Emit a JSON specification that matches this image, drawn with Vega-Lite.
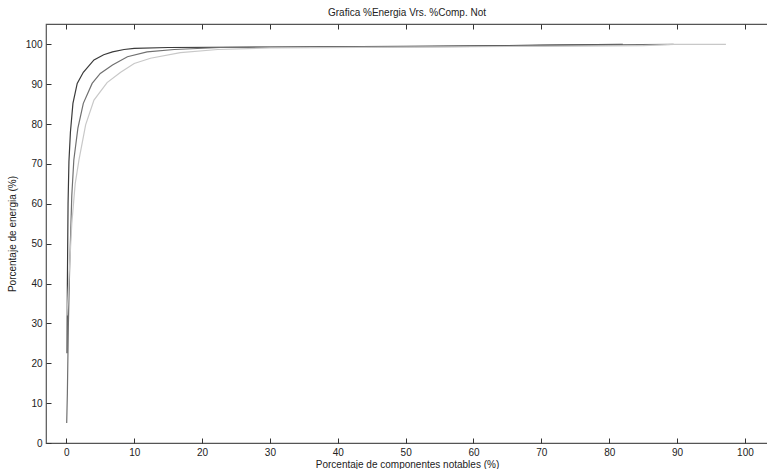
{
  "$schema": "https://vega.github.io/schema/vega-lite/v6.json",
  "autosize": "none",
  "padding": {"left": 46, "top": 24, "right": 0, "bottom": 26},
  "width": 722,
  "height": 419,
  "background": "white",
  "config": {
    "view": {"stroke": "#555", "strokeWidth": 1.2},
    "font": "Liberation Sans",
    "axis": {"grid": false, "labelFont": "Liberation Sans", "titleFont": "Liberation Sans", "labelFontSize": 10, "titleFontSize": 10, "titleFontWeight": "normal", "labelColor": "#222", "titleColor": "#222"}
  },
  "title": {"text": "Grafica %Energia Vrs. %Comp. Not", "fontSize": 10, "fontWeight": "normal", "font": "Liberation Sans", "color": "#222", "offset": 6},
  "data": {"values": [
    {"s": "A", "x": 0.1, "y": 22.5}, {"s": "A", "x": 0.15, "y": 40}, {"s": "A", "x": 0.25, "y": 60}, {"s": "A", "x": 0.38, "y": 70.6}, {"s": "A", "x": 0.6, "y": 78}, {"s": "A", "x": 0.97, "y": 85.2}, {"s": "A", "x": 1.6, "y": 90.2}, {"s": "A", "x": 2.5, "y": 93}, {"s": "A", "x": 4.07, "y": 96.1}, {"s": "A", "x": 5.5, "y": 97.4}, {"s": "A", "x": 6.8, "y": 98.1}, {"s": "A", "x": 8.5, "y": 98.7}, {"s": "A", "x": 10, "y": 99.0}, {"s": "A", "x": 15, "y": 99.2}, {"s": "A", "x": 30, "y": 99.3}, {"s": "A", "x": 50, "y": 99.5}, {"s": "A", "x": 60, "y": 99.6}, {"s": "A", "x": 70, "y": 99.8}, {"s": "A", "x": 82, "y": 100},
    {"s": "B", "x": 0.05, "y": 5}, {"s": "B", "x": 0.15, "y": 12.5}, {"s": "B", "x": 0.3, "y": 30}, {"s": "B", "x": 0.5, "y": 45}, {"s": "B", "x": 0.8, "y": 62}, {"s": "B", "x": 1.1, "y": 71}, {"s": "B", "x": 1.7, "y": 79}, {"s": "B", "x": 2.5, "y": 85.2}, {"s": "B", "x": 3.8, "y": 90.2}, {"s": "B", "x": 5, "y": 92.7}, {"s": "B", "x": 6.8, "y": 94.8}, {"s": "B", "x": 9, "y": 96.9}, {"s": "B", "x": 11.9, "y": 98.1}, {"s": "B", "x": 15.9, "y": 98.7}, {"s": "B", "x": 22.7, "y": 99.2}, {"s": "B", "x": 40, "y": 99.3}, {"s": "B", "x": 60, "y": 99.5}, {"s": "B", "x": 75, "y": 99.8}, {"s": "B", "x": 89.5, "y": 100},
    {"s": "C", "x": 0.1, "y": 32}, {"s": "C", "x": 0.4, "y": 42}, {"s": "C", "x": 0.8, "y": 55}, {"s": "C", "x": 1.3, "y": 65}, {"s": "C", "x": 1.86, "y": 71}, {"s": "C", "x": 2.84, "y": 79.8}, {"s": "C", "x": 4.07, "y": 86}, {"s": "C", "x": 6, "y": 90.4}, {"s": "C", "x": 8, "y": 93}, {"s": "C", "x": 10, "y": 95.2}, {"s": "C", "x": 12.4, "y": 96.5}, {"s": "C", "x": 16.8, "y": 97.9}, {"s": "C", "x": 22.3, "y": 98.7}, {"s": "C", "x": 30, "y": 99.1}, {"s": "C", "x": 50, "y": 99.3}, {"s": "C", "x": 70, "y": 99.5}, {"s": "C", "x": 85, "y": 99.7}, {"s": "C", "x": 89.5, "y": 100}, {"s": "C", "x": 97.2, "y": 100}
  ]},
  "layer": [
    {
      "mark": {"type": "line", "strokeWidth": 1.2, "clip": true},
      "encoding": {
        "x": {"field": "x", "type": "quantitative", "scale": {"domain": [-3, 103.4], "nice": false, "zero": false},
              "axis": {"orient": "bottom", "values": [0,10,20,30,40,50,60,70,80,90,100], "domain": false, "offset": -5, "tickSize": 5, "tickColor": "#333", "tickWidth": 1, "labelPadding": 4, "title": "Porcentaje de componentes notables (%)", "titlePadding": 2}},
        "y": {"field": "y", "type": "quantitative", "scale": {"domain": [0, 105.1], "nice": false},
              "axis": {"orient": "left", "values": [0,10,20,30,40,50,60,70,80,90,100], "domain": false, "offset": -5, "tickSize": 5, "tickColor": "#333", "tickWidth": 1, "labelPadding": 4, "title": "Porcentaje de energia (%)", "titlePadding": 8}},
        "color": {"field": "s", "type": "nominal", "legend": null, "scale": {"domain": ["C", "B", "A"], "range": ["#c8c8c8", "#707070", "#3a3a3a"]}},
        "order": {"field": "x", "type": "quantitative"}
      }
    },
    {
      "mark": {"type": "point", "opacity": 0},
      "encoding": {
        "x": {"field": "x", "type": "quantitative", "axis": {"orient": "top", "values": [0,10,20,30,40,50,60,70,80,90,100], "domain": false, "offset": -5, "tickSize": 5, "tickColor": "#333", "tickWidth": 1, "labels": false, "title": null}},
        "y": {"field": "y", "type": "quantitative"}
      }
    }
  ],
  "resolve": {"axis": {"x": "independent"}}
}
